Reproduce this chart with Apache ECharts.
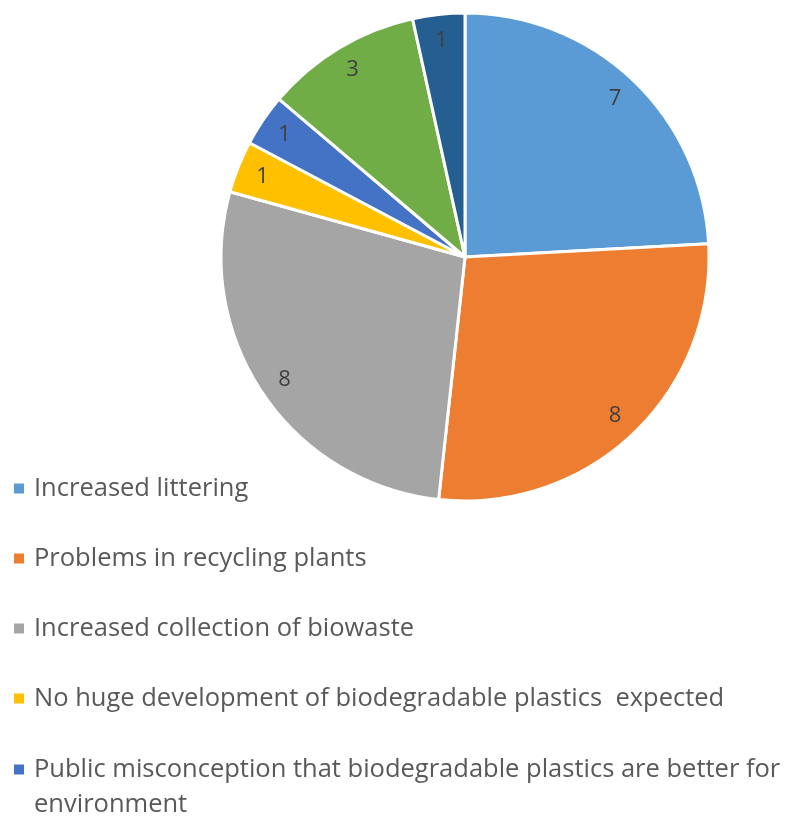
<!DOCTYPE html>
<html>
<head>
<meta charset="utf-8">
<script src="https://cdn.jsdelivr.net/npm/echarts@6/dist/echarts.min.js"></script>
<style>
  html, body { margin: 0; padding: 0; background: #fff; }
  #main { width: 787px; height: 818px; }
</style>
</head>
<body>
<div id="main"></div>
<script>
// slice names (last two are not shown in the legend of the original)
const categories = [
  'Increased littering',
  'Problems in recycling plants',
  'Increased collection of biowaste',
  'No huge development of biodegradable plastics  expected',
  'Public misconception that biodegradable plastics are better for environment',
  'Category 6',
  'Category 7'
];
const values = [7, 8, 8, 1, 1, 3, 1];
const colors = ['#5B9BD5', '#ED7D31', '#A5A5A5', '#FFC000', '#4472C4', '#70AD47', '#255E91'];

const pieData = categories.map((name, i) => ({
  name: name,
  value: values[i],
  itemStyle: {color: colors[i]}
}));

const legendText = {
  color: '#595959',
  fontSize: 25.5,
  fontFamily: 'Open Sans',
  lineHeight: 35,
  padding: [0, 0, 0, 4]
};

let chart = echarts.init(document.getElementById('main'));
let option = {
  animation: false,
  legend: [
    {
      orient: 'vertical',
      left: 12,
      top: 471,
      padding: 0,
      itemWidth: 12,
      itemHeight: 12,
      itemGap: 35,
      icon: 'rect',
      selectedMode: false,
      data: categories.slice(0, 4),
      textStyle: legendText
    },
    {
      orient: 'vertical',
      left: 12,
      top: 717,
      padding: 0,
      itemWidth: 12,
      itemHeight: 12,
      icon: 'rect',
      selectedMode: false,
      data: categories.slice(4, 5),
      formatter: name => '\n' + name,
      textStyle: Object.assign({}, legendText, {width: 758, overflow: 'break'})
    }
  ],
  series: [
    {
      // coloured slices
      type: 'pie',
      center: [465, 257],
      radius: [0, 244],
      startAngle: 90,
      clockwise: true,
      silent: true,
      itemStyle: {borderColor: '#fff', borderWidth: 3},
      label: {show: false},
      labelLine: {show: false},
      data: pieData
    },
    {
      // transparent ring carrying the value labels near the rim
      type: 'pie',
      center: [465, 257],
      radius: [187, 243],
      startAngle: 90,
      clockwise: true,
      silent: true,
      itemStyle: {color: 'rgba(0,0,0,0)', borderWidth: 0},
      label: {
        show: true,
        position: 'inside',
        formatter: '{c}',
        color: '#404040',
        fontSize: 22,
        fontFamily: 'Open Sans'
      },
      labelLine: {show: false},
      data: categories.map((name, i) => ({name: name, value: values[i]}))
    }
  ]
};
option && chart.setOption(option);
</script>
</body>
</html>
